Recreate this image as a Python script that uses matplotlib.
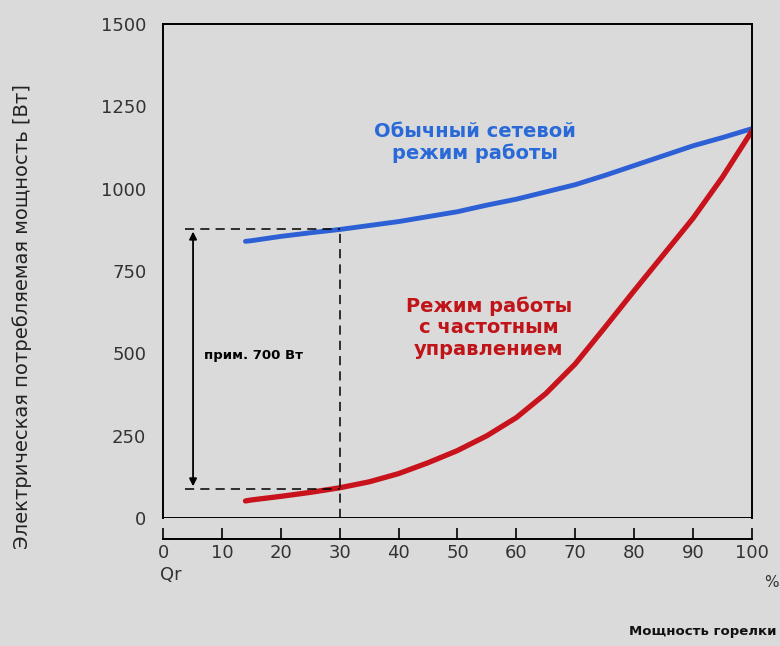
import numpy as np
import matplotlib.pyplot as plt
import matplotlib as mp

mp.rcParams.update({'font.family': ['DejaVu Sans'], 'font.size': 13})

# burner power, %
x_grid = [14, 15, 20, 25, 30, 35, 40, 45, 50, 55, 60, 65, 70, 75, 80, 85, 90, 95, 100]
# ordinary mains operation, W
p_mains = [840, 842, 855, 866, 876, 888, 900, 915, 930, 950, 968, 990, 1012, 1040,
           1070, 1100, 1130, 1155, 1182]
# frequency-controlled operation, W
p_vfd = [52, 55, 66, 78, 92, 110, 135, 168, 205, 250, 305, 378, 468, 578,
         690, 800, 910, 1035, 1175]

xticks = [0, 10, 20, 30, 40, 50, 60, 70, 80, 90, 100]
yticks = [0, 250, 500, 750, 1000, 1250, 1500]

x_op = 30
p_op_mains = 878
p_op_vfd = 88
x_dash0 = 3.7
x_arrow = 5.1

bg = '#dadada'
fig = plt.figure(figsize=(7.8, 6.46), dpi=100, facecolor=bg)
ax = fig.add_axes([0.209, 0.198, 0.755, 0.765], facecolor=bg)

ax.plot(x_grid, p_mains, color='#2c60d4', lw=3.5, solid_capstyle='round', solid_joinstyle='round')
ax.plot(x_grid, p_vfd, color='#c8121c', lw=3.8, solid_capstyle='round', solid_joinstyle='round')

# dashed guides
ax.plot([x_dash0, x_op], [p_op_mains, p_op_mains], 'k--', lw=1.1, dashes=(6, 4))
ax.plot([x_dash0, x_op], [p_op_vfd, p_op_vfd], 'k--', lw=1.1, dashes=(6, 4))
ax.plot([x_op, x_op], [0, p_op_mains], 'k--', lw=1.1, dashes=(6, 4))
ax.annotate('', xy=(x_arrow, p_op_vfd), xytext=(x_arrow, p_op_mains),
            arrowprops=dict(arrowstyle='<|-|>', color='k', lw=1.3, mutation_scale=11))
ax.text(x_arrow + 1.8, 493, 'прим. 700 Вт', fontsize=9.5, fontweight='bold', va='center')

ax.text(53, 1140, 'Обычный сетевой\nрежим работы', color='#2a6ad8', fontsize=14,
        fontweight='bold', ha='center', va='center', linespacing=1.15)
ax.text(55.3, 578, 'Режим работы\nс частотным\nуправлением', color='#c01418', fontsize=14,
        fontweight='bold', ha='center', va='center', linespacing=1.15)

ax.set_xlim(0, 100)
ax.set_ylim(0, 1500)
ax.set_xticks(xticks)
ax.set_yticks(yticks)
ax.axhline(0, color='k', lw=1.4)
for s in ['left', 'right', 'top']:
    ax.spines[s].set_linewidth(1.4)
ax.spines['bottom'].set_position(('outward', 15))
ax.spines['bottom'].set_linewidth(1.4)
ax.tick_params(axis='x', direction='in', length=8, width=1.2, pad=4, labelcolor='#333333')
ax.tick_params(axis='y', length=0, pad=12, labelcolor='#333333')

fig.text(0.028, 0.51, 'Электрическая потребляемая мощность [Вт]', rotation=90,
         ha='center', va='center', fontsize=14, color='#222222')
fig.text(0.205, 0.11, 'Qr', fontsize=13, color='#333333', va='center')
fig.text(0.998, 0.098, '%', fontsize=11, color='#333333', ha='right', va='center')
fig.text(0.995, 0.022, 'Мощность горелки', fontsize=9.5, fontweight='bold',
         color='#111111', ha='right', va='center')

fig.savefig('out.png', dpi=100, facecolor=bg)
